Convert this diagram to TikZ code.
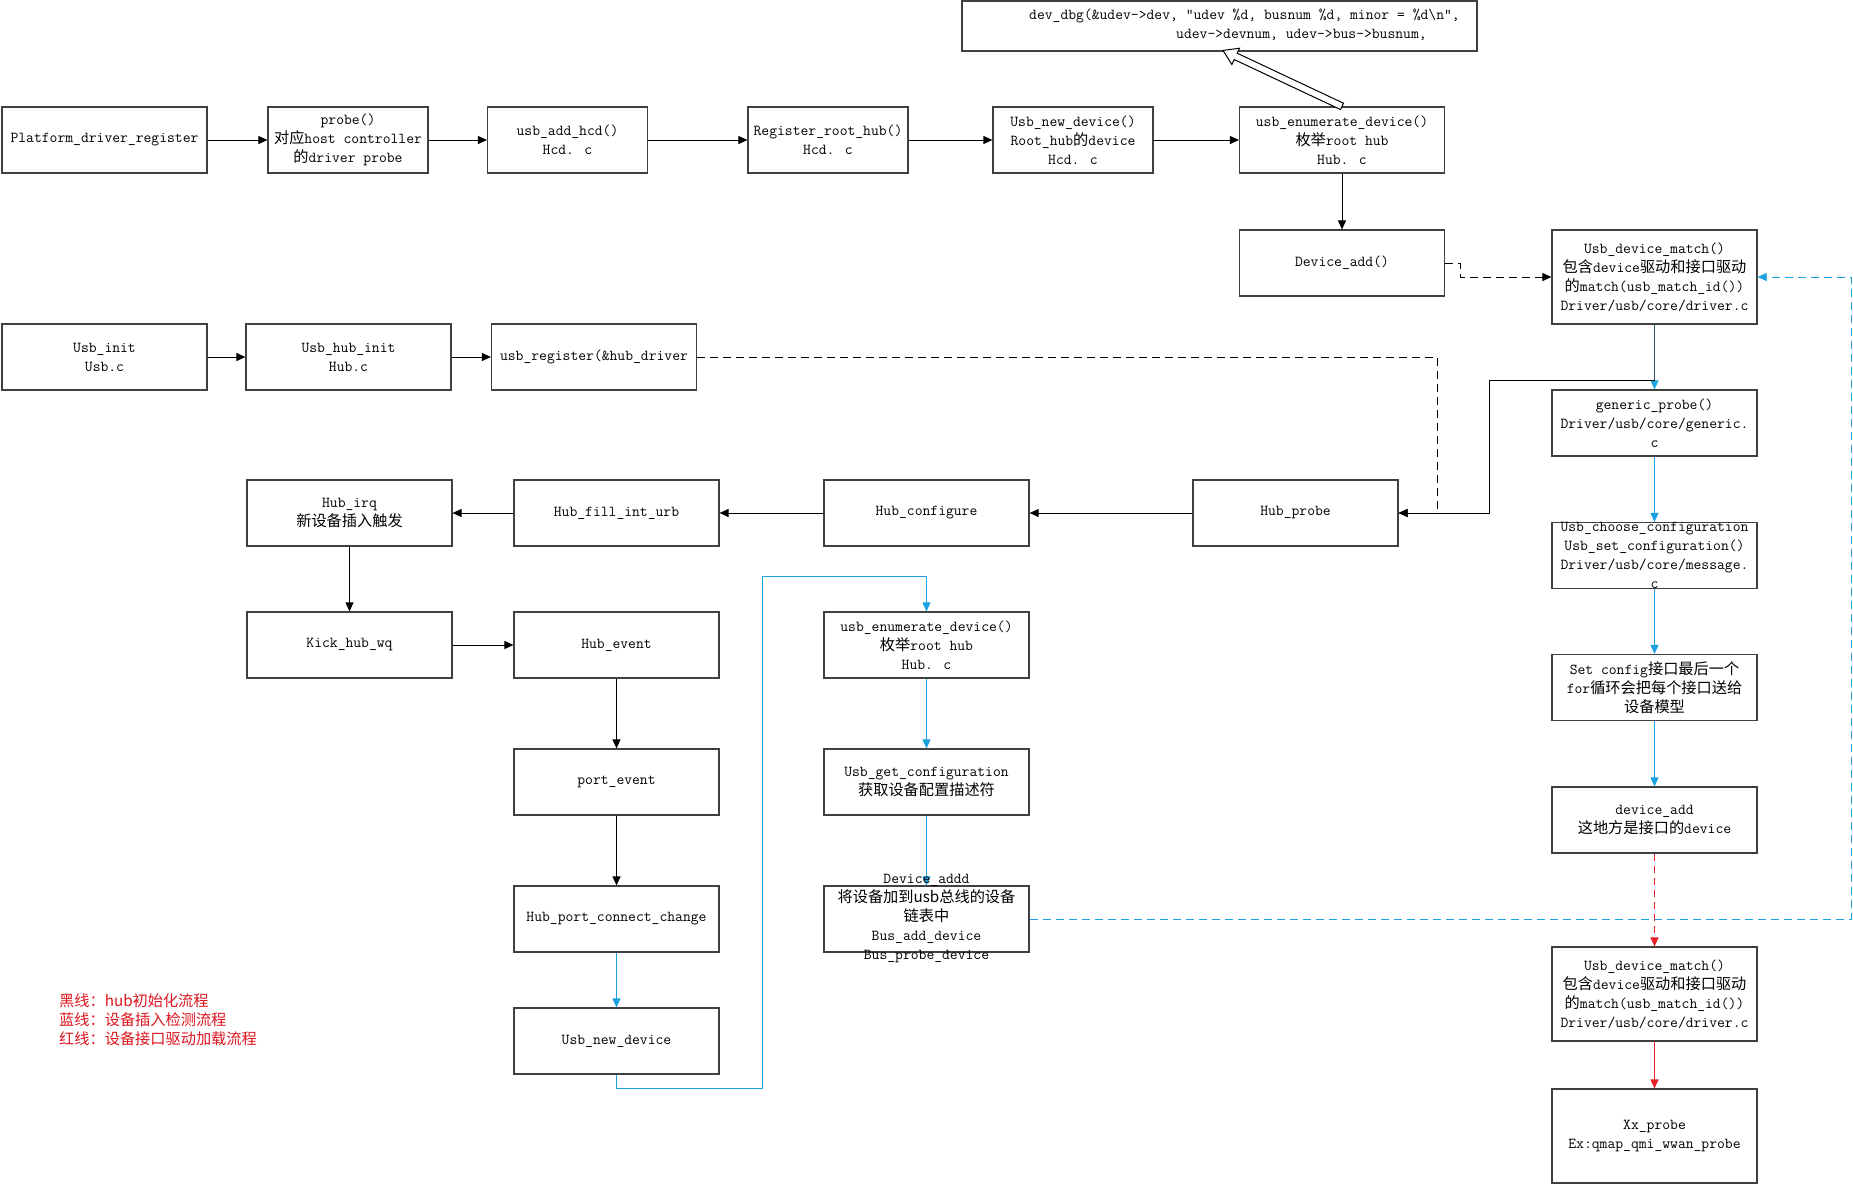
\documentclass[tikz,border=0pt]{standalone}
\usepackage{fontspec}
\newfontfamily\cjkf[Scale=1.0]{Noto Sans CJK SC}
\usetikzlibrary{arrows.meta}
\definecolor{bline}{RGB}{27,161,226}
\definecolor{rline}{RGB}{232,32,40}
\definecolor{legred}{RGB}{220,20,30}
\definecolor{boxc}{RGB}{64,64,64}
\definecolor{steel}{RGB}{40,85,115}
\newcommand\zhs[1]{{\cjkf #1}}
\begin{document}
\begin{tikzpicture}[x=1pt,y=-1pt,
  bx/.style={draw=boxc, line width=1.2pt, fill=white, align=center, inner sep=0pt,
    minimum width=205pt, minimum height=66pt, font={\ttfamily\fontsize{15.2}{19}\selectfont}},
  bxs/.style={bx, minimum width=160pt},
  bxt/.style={bx, minimum height=94pt},
  txt/.style={align=center, inner sep=0pt, font={\ttfamily\fontsize{15.2}{19}\selectfont}},
  ln/.style={line width=1pt, black},
  arr/.style={ln, -{Triangle[length=9pt,width=8pt]}},
  darr/.style={arr, dash pattern=on 8pt off 5pt},
  barr/.style={line width=1pt, bline, -{Triangle[length=9pt,width=8pt]}},
  bdarr/.style={barr, dash pattern=on 8pt off 5pt},
  rarr/.style={line width=1pt, rline, -{Triangle[length=9pt,width=8pt]}},
  rdarr/.style={rarr, dash pattern=on 7pt off 5pt},
]
\useasboundingbox (0,0) rectangle (1853,1184);

% row 1
\node[bx] (plat) at (104.5,140) {Platform\_driver\_register};
\node[bxs] (probe) at (348,140) {probe()\\\zhs{对应}host controller\\\zhs{的}driver probe};
\node[bxs] (addhcd) at (567.5,140) {usb\_add\_hcd()\\Hcd. c};
\node[bxs] (regroot) at (828,140) {Register\_root\_hub()\\Hcd. c};
\node[bxs] (newdev1) at (1073,140) {Usb\_new\_device()\\Root\_hub\zhs{的}device\\Hcd. c};
\node[bx] (enum1) at (1342,140) {usb\_enumerate\_device()\\\zhs{枚举}root hub\\Hub. c};
\node[draw=boxc, line width=1.2pt, fill=white, minimum width=515pt, minimum height=50pt, inner sep=0pt] (dbg) at (1219.5,26) {};
\node[txt, align=left, anchor=west] (dbgt) at (1029,25) {dev\_dbg(\&udev->dev, “udev \%d, busnum \%d, minor = \%d\textbackslash n”,\\\hspace*{147pt}udev->devnum, udev->bus->busnum,};

\node[bx] (devadd1) at (1342,263) {Device\_add()};
\node[bxt] (match1) at (1654.5,277) {Usb\_device\_match()\\\zhs{包含}device\zhs{驱动和接口驱动}\\\zhs{的}match(usb\_match\_id())\\Driver/usb/core/driver.c};

% row 3
\node[bx] (usbinit) at (104.5,357) {Usb\_init\\Usb.c};
\node[bx] (hubinit) at (348.5,357) {Usb\_hub\_init\\Hub.c};
\node[bx] (usbreg) at (594,357) {usb\_register(\&hub\_driver};
\node[bx] (generic) at (1654.5,423) {generic\_probe()\\Driver/usb/core/generic.\\c};

% row 4
\node[bx] (hubirq) at (349.5,513) {Hub\_irq\\\zhs{新设备插入触发}};
\node[bx] (fillurb) at (616.5,513) {Hub\_fill\_int\_urb};
\node[bx] (hubcfg) at (926.5,513) {Hub\_configure};
\node[bx] (hubprobe) at (1295.5,513) {Hub\_probe};
\node[bx] (choose) at (1654.5,555.5) {};
\node[txt] (chooset) at (choose.center) {Usb\_choose\_configuration\\Usb\_set\_configuration()\\Driver/usb/core/message.\\c};

% row 5
\node[bx] (kick) at (349.5,645) {Kick\_hub\_wq};
\node[bx] (hubevent) at (616.5,645) {Hub\_event};
\node[bx] (enum2) at (926.5,645) {usb\_enumerate\_device()\\\zhs{枚举}root hub\\Hub. c};
\node[bx] (setcfg) at (1654.5,687.5) {Set config\zhs{接口最后一个}\\for\zhs{循环会把每个接口送给}\\\zhs{设备模型}};

% row 6
\node[bx] (portevent) at (616.5,782) {port\_event};
\node[bx] (getcfg) at (926.5,782) {Usb\_get\_configuration\\\zhs{获取设备配置描述符}};
\node[bx] (devadd2) at (1654.5,820) {device\_add\\\zhs{这地方是接口的}device};

% row 7
\node[bx] (hpcc) at (616.5,919) {Hub\_port\_connect\_change};
\node[bx] (dadd) at (926.5,919) {};
\node[bxt] (match2) at (1654.5,994) {Usb\_device\_match()\\\zhs{包含}device\zhs{驱动和接口驱动}\\\zhs{的}match(usb\_match\_id())\\Driver/usb/core/driver.c};

% row 8
\node[bx] (newdev2) at (616.5,1041) {Usb\_new\_device};
\node[bxt] (xxprobe) at (1654.5,1136) {Xx\_probe\\Ex:qmap\_qmi\_wwan\_probe};

% legend
\node[anchor=west, align=left, text=legred, inner sep=0pt, font={\cjkf\fontsize{15.2}{19}\selectfont}] (legend) at (59,1020)
  {黑线：hub初始化流程\\蓝线：设备插入检测流程\\红线：设备接口驱动加载流程};

% coordinates
\coordinate (j0) at (1654.5,380.5);
\coordinate (j1) at (1489,380.5);
\coordinate (d1) at (1437,513);
\coordinate (b1) at (762,1088);
\coordinate (b2) at (762,576);
\coordinate (e1) at (1851,277);

% black arrows
\draw[arr] (plat) -- (probe);
\draw[arr] (probe) -- (addhcd);
\draw[arr] (addhcd) -- (regroot);
\draw[arr] (regroot) -- (newdev1);
\draw[arr] (newdev1) -- (enum1);
\draw[arr] (enum1) -- (devadd1);
\draw[arr] (usbinit) -- (hubinit);
\draw[arr] (hubinit) -- (usbreg);
\draw[arr] (hubprobe) -- (hubcfg);
\draw[arr] (hubcfg) -- (fillurb);
\draw[arr] (fillurb) -- (hubirq);
\draw[arr] (hubirq) -- (kick);
\draw[arr] (kick) -- (hubevent);
\draw[arr] (hubevent) -- (portevent);
\draw[arr] (portevent) -- (hpcc);

% dashed black
\draw[darr] (usbreg.east) -| (d1) -- (hubprobe.east);
\draw[darr] (devadd1.east) -- ++(15,0) |- (match1.west);

% blue
\draw[barr] (match1) -- (generic);
\draw[barr] (generic) -- (choose);
\draw[barr] (choose) -- (setcfg);
\draw[barr] (setcfg) -- (devadd2);
\draw[barr] (hpcc) -- (newdev2);
\draw[barr] (newdev2.south) |- (b1) -- (b2) -| (enum2.north);
\draw[barr] (enum2) -- (getcfg);
\draw[barr] (getcfg) -- (dadd);
\draw[bdarr] (dadd.east) -| (e1) -- (match1.east);

% solid path match1 -> hub_probe
\draw[line width=1.2pt, steel] (match1.south) -- (j0);
\draw[arr] (j0) -- (j1) |- (hubprobe.east);

% red
\draw[rdarr] (devadd2) -- (match2);
\draw[rarr] (match2) -- (xxprobe);

% text of Device_addd box (on top of arrow)
\node[txt] (daddt) at (dadd.center) {Device\_addd\\\zhs{将设备加到usb总线的设备}\\\zhs{链表中}\\Bus\_add\_device\\Bus\_probe\_device};

% hollow arrow enum1 -> dbg
\begin{scope}[shift={(enum1.north)}, rotate=154.8]
  \draw[line width=1pt, fill=white] (0,-3.5) -- (117.5,-3.5) -- (117.5,-9) -- (131.5,0) -- (117.5,9) -- (117.5,3.5) -- (0,3.5) -- cycle;
\end{scope}
\end{tikzpicture}
\end{document}
